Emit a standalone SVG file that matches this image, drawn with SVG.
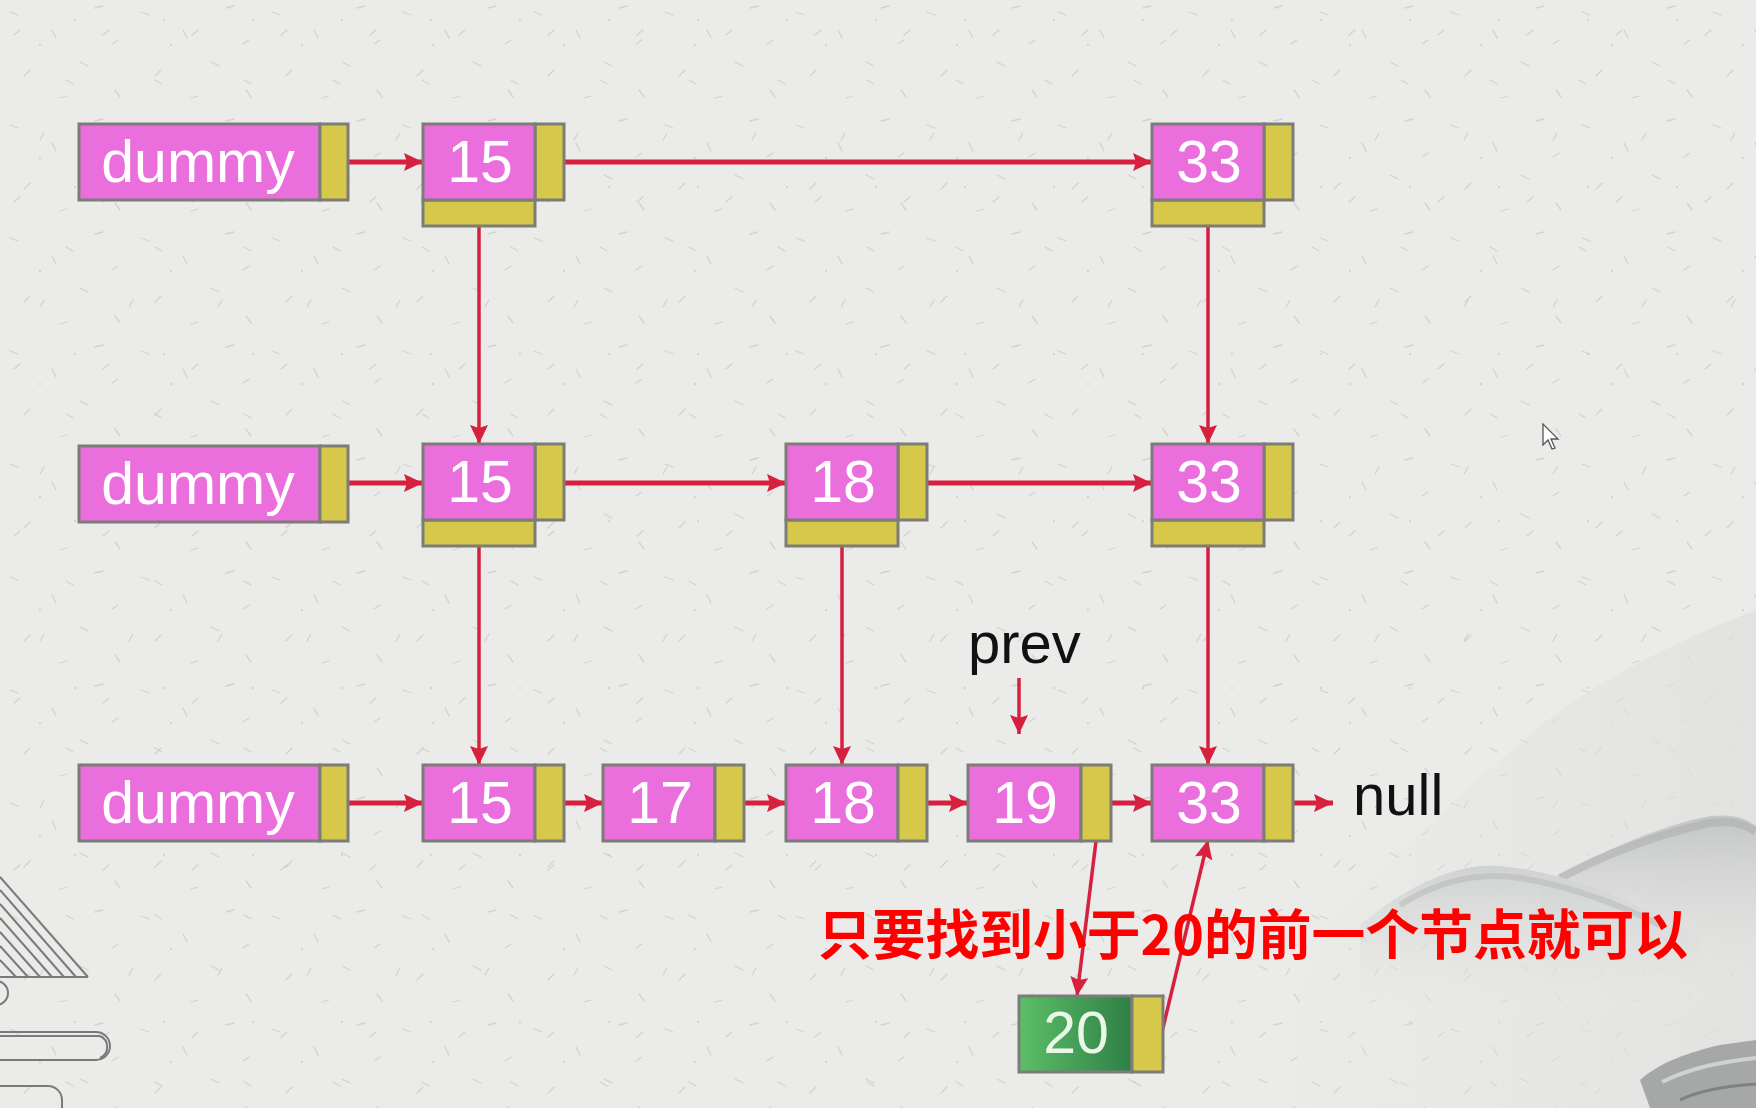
<svg xmlns="http://www.w3.org/2000/svg" width="1756" height="1108" viewBox="0 0 1756 1108">
<defs>
<style>
.pk{fill:#ea6edc;stroke:#7d7d78;stroke-width:3}
.yl{fill:#d6c84b;stroke:#7d7d78;stroke-width:3}
.gr{fill:url(#grn);stroke:#7d7d78;stroke-width:3}
.t{font-family:"Liberation Sans",Arial,sans-serif;font-size:59px;fill:#ffffff;text-anchor:middle}
.bk{font-family:"Liberation Sans",Arial,sans-serif;font-size:58px;fill:#111111}
.c{stroke:#d6203e;stroke-width:5;fill:none;marker-end:url(#ah)}
.cv{stroke:#d6203e;stroke-width:3.5;fill:none;marker-end:url(#ah)}
.sp{stroke:#b4b4b1;stroke-width:1.3;stroke-linecap:round;opacity:.45}
</style>
<marker id="ah" markerUnits="userSpaceOnUse" markerWidth="22" markerHeight="20" refX="19" refY="9" orient="auto">
<path d="M0,0 L19,9 L0,18 L3,9 Z" fill="#d6203e"/>
</marker>
<linearGradient id="grn" x1="0" y1="0" x2="1" y2="0">
<stop offset="0" stop-color="#5cbf68"/>
<stop offset="1" stop-color="#2f7f45"/>
</linearGradient>
<linearGradient id="hillA" x1="0" y1="0" x2="0" y2="1">
<stop offset="0" stop-color="#cfd2d1"/>
<stop offset="1" stop-color="#ebebe9" stop-opacity="0"/>
</linearGradient>
<linearGradient id="hillB" x1="0" y1="0" x2="0" y2="1">
<stop offset="0" stop-color="#c3c6c5"/>
<stop offset="1" stop-color="#ebebe9" stop-opacity="0"/>
</linearGradient>
<linearGradient id="far" x1="0" y1="0" x2="1" y2="0">
<stop offset="0" stop-color="#e4e4e2" stop-opacity="0"/>
<stop offset="1" stop-color="#e0e0de"/>
</linearGradient>
<pattern id="paper" width="131" height="113" patternUnits="userSpaceOnUse">
<line class="sp" x1="10" y1="12" x2="18" y2="15"/>
<line class="sp" x1="52" y1="30" x2="56" y2="38"/>
<line class="sp" x1="95" y1="8" x2="103" y2="6"/>
<line class="sp" x1="30" y1="70" x2="24" y2="76"/>
<line class="sp" x1="80" y1="62" x2="88" y2="66"/>
<line class="sp" x1="115" y1="90" x2="120" y2="97"/>
<line class="sp" x1="60" y1="98" x2="67" y2="96"/>
<line class="sp" x1="112" y1="44" x2="118" y2="40"/>
<circle cx="40" cy="45" r="1" fill="#b0b0ad" opacity=".5"/>
</pattern>
<pattern id="paper2" width="89" height="167" patternUnits="userSpaceOnUse">
<line class="sp" x1="20" y1="30" x2="14" y2="35"/>
<line class="sp" x1="66" y1="80" x2="73" y2="84"/>
<line class="sp" x1="40" y1="140" x2="44" y2="133"/>
<circle cx="75" cy="20" r="1" fill="#b0b0ad" opacity=".5"/>
</pattern>
</defs>

<rect width="1756" height="1108" fill="#ebebe9"/>
<rect width="1756" height="1108" fill="url(#paper)"/>
<rect width="1756" height="1108" fill="url(#paper2)"/>

<g id="decor">
<path d="M1250,1108 L1330,920 Q1450,800 1560,710 Q1650,650 1756,610 L1756,1108 Z" fill="url(#far)" opacity=".8"/>
<path d="M1540,885 C1600,852 1650,830 1700,818 C1730,812 1745,818 1756,826 L1756,1010 L1540,1010 Z" fill="url(#hillB)"/>
<path d="M1560,878 C1610,852 1660,834 1705,824 C1730,819 1745,824 1756,832" fill="none" stroke="#a9adac" stroke-width="8" opacity=".55"/>
<path d="M1360,925 C1400,892 1450,862 1500,866 C1560,872 1620,892 1700,940 L1700,1020 L1360,1020 Z" fill="url(#hillA)"/>
<path d="M1400,905 C1440,880 1480,872 1520,878 C1570,886 1620,905 1660,925" fill="none" stroke="#b6b9b8" stroke-width="6" opacity=".55"/>
<path d="M1640,1080 C1660,1062 1690,1052 1720,1045 L1756,1040 L1756,1108 L1650,1108 Z" fill="#a6a8a7"/>
<path d="M1662,1082 C1690,1068 1720,1062 1756,1058" fill="none" stroke="#d0d2d1" stroke-width="4"/>
<path d="M1680,1100 C1700,1090 1725,1086 1756,1084" fill="none" stroke="#7f8180" stroke-width="3"/>
<g fill="none" stroke="#7a7a7a" stroke-width="2">
<line x1="0" y1="890" x2="76" y2="977"/>
<line x1="0" y1="904" x2="64" y2="977"/>
<line x1="0" y1="918" x2="52" y2="977"/>
<line x1="0" y1="932" x2="40" y2="977"/>
<line x1="0" y1="946" x2="28" y2="977"/>
<line x1="0" y1="960" x2="16" y2="977"/>
<line x1="0" y1="877" x2="88" y2="977"/>
<line x1="0" y1="977" x2="88" y2="977"/>
<circle cx="-4" cy="993" r="12"/>
<path d="M0,1032 L96,1032 A14,14 0 0 1 96,1060 L0,1060"/>
<path d="M0,1036 L100,1036 A12,12 0 0 1 100,1058"/>
<path d="M0,1086 L48,1086 A14,14 0 0 1 62,1100 L62,1108"/>
</g>
<path d="M1543,424 L1543,445 L1548,440 L1552,449 L1555,448 L1551,439 L1558,439 Z" fill="#ffffff" stroke="#555" stroke-width="1.3"/>
</g>

<g id="connectors">
<line class="c" x1="348" y1="162" x2="423" y2="162"/>
<line class="c" x1="564" y1="162" x2="1152" y2="162"/>
<line class="c" x1="348" y1="483" x2="423" y2="483"/>
<line class="c" x1="564" y1="483" x2="786" y2="483"/>
<line class="c" x1="927" y1="483" x2="1152" y2="483"/>
<line class="c" x1="348" y1="803" x2="423" y2="803"/>
<line class="c" x1="564" y1="803" x2="603" y2="803"/>
<line class="c" x1="744" y1="803" x2="786" y2="803"/>
<line class="c" x1="927" y1="803" x2="968" y2="803"/>
<line class="c" x1="1111" y1="803" x2="1152" y2="803"/>
<line class="c" x1="1293" y1="803" x2="1333" y2="803"/>
<line class="cv" x1="479" y1="227" x2="479" y2="444"/>
<line class="cv" x1="1208" y1="227" x2="1208" y2="444"/>
<line class="cv" x1="479" y1="547" x2="479" y2="765"/>
<line class="cv" x1="842" y1="547" x2="842" y2="765"/>
<line class="cv" x1="1208" y1="547" x2="1208" y2="765"/>
<line class="cv" x1="1019" y1="678" x2="1019" y2="734"/>
<line class="cv" x1="1096" y1="841" x2="1077" y2="996"/>
<line class="cv" x1="1162" y1="1032" x2="1208" y2="840"/>
</g>

<g id="r1-dummy"><rect class="pk" x="79" y="124" width="241" height="76"/><rect class="yl" x="320" y="124" width="28" height="76"/><text class="t" x="198" y="182">dummy</text></g>
<g id="r1-15"><rect class="yl" x="423" y="200" width="112" height="26"/><rect class="yl" x="535" y="124" width="29" height="76"/><rect class="pk" x="423" y="124" width="112" height="76"/><text class="t" x="480" y="182">15</text></g>
<g id="r1-33"><rect class="yl" x="1152" y="200" width="112" height="26"/><rect class="yl" x="1264" y="124" width="29" height="76"/><rect class="pk" x="1152" y="124" width="112" height="76"/><text class="t" x="1209" y="182">33</text></g>

<g id="r2-dummy"><rect class="pk" x="79" y="446" width="241" height="76"/><rect class="yl" x="320" y="446" width="28" height="76"/><text class="t" x="198" y="504">dummy</text></g>
<g id="r2-15"><rect class="yl" x="423" y="520" width="112" height="26"/><rect class="yl" x="535" y="444" width="29" height="76"/><rect class="pk" x="423" y="444" width="112" height="76"/><text class="t" x="480" y="502">15</text></g>
<g id="r2-18"><rect class="yl" x="786" y="520" width="112" height="26"/><rect class="yl" x="898" y="444" width="29" height="76"/><rect class="pk" x="786" y="444" width="112" height="76"/><text class="t" x="843" y="502">18</text></g>
<g id="r2-33"><rect class="yl" x="1152" y="520" width="112" height="26"/><rect class="yl" x="1264" y="444" width="29" height="76"/><rect class="pk" x="1152" y="444" width="112" height="76"/><text class="t" x="1209" y="502">33</text></g>

<g id="r3-dummy"><rect class="pk" x="79" y="765" width="241" height="76"/><rect class="yl" x="320" y="765" width="28" height="76"/><text class="t" x="198" y="823">dummy</text></g>
<g id="r3-15"><rect class="pk" x="423" y="765" width="112" height="76"/><rect class="yl" x="535" y="765" width="29" height="76"/><text class="t" x="480" y="823">15</text></g>
<g id="r3-17"><rect class="pk" x="603" y="765" width="112" height="76"/><rect class="yl" x="715" y="765" width="29" height="76"/><text class="t" x="660" y="823">17</text></g>
<g id="r3-18"><rect class="pk" x="786" y="765" width="112" height="76"/><rect class="yl" x="898" y="765" width="29" height="76"/><text class="t" x="843" y="823">18</text></g>
<g id="r3-19"><rect class="pk" x="968" y="765" width="113" height="76"/><rect class="yl" x="1081" y="765" width="30" height="76"/><text class="t" x="1025" y="823">19</text></g>
<g id="r3-33"><rect class="pk" x="1152" y="765" width="112" height="76"/><rect class="yl" x="1264" y="765" width="29" height="76"/><text class="t" x="1209" y="823">33</text></g>

<g id="null"><text class="bk" x="1353" y="815">null</text></g>
<g id="prev"><text class="bk" x="968" y="663">prev</text></g>

<g id="n20"><rect class="gr" x="1019" y="996" width="113" height="76"/><rect class="yl" x="1132" y="996" width="31" height="76"/><text class="t" x="1076" y="1053" style="fill:#eaf7e6">20</text></g>

<g id="note"><text x="818" y="955" textLength="870" lengthAdjust="spacingAndGlyphs" style="font-family:'Noto Sans CJK SC','Noto Sans',sans-serif;font-size:54px;font-weight:bold;fill:#ff0000">只要找到小于20的前一个节点就可以</text></g>
</svg>
